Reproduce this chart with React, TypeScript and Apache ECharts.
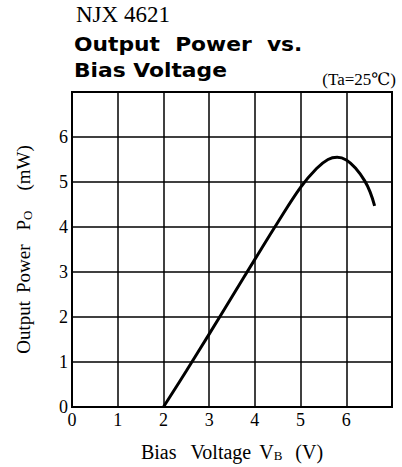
import React, { useEffect, useRef } from "react";
import * as echarts from "echarts";

const biasVoltage = [2.0, 2.5, 3.0, 3.5, 4.0, 4.5, 5.0, 5.35, 5.6, 5.8, 6.0, 6.2, 6.4, 6.52, 6.62];
const outputPower = [0.0, 0.8, 1.62, 2.45, 3.28, 4.1, 4.88, 5.3, 5.5, 5.55, 5.49, 5.31, 5.03, 4.78, 4.47];
const xTicks = [0, 1, 2, 3, 4, 5, 6, 7];
const yTicks = [0, 1, 2, 3, 4, 5, 6, 7];

const SERIF = "'Liberation Serif', 'DejaVu Serif', serif";
const BOLD = "'DejaVu Sans', 'Liberation Sans', sans-serif";

export default function App() {
  const ref = useRef<HTMLDivElement>(null);
  useEffect(() => {
    document.body.style.margin = "0";
    const chart = echarts.init(ref.current!, null, { renderer: "svg" });
    const data = biasVoltage.map((v, i) => [v, outputPower[i]]);
    const base = { fontFamily: SERIF, color: "#000" };
    chart.setOption({
      animation: false,
      backgroundColor: "#fff",
      grid: { left: 72, right: 10, top: 92, bottom: 57, show: true, borderColor: "#000", borderWidth: 2 },
      graphic: [
        { type: "text", left: 76, top: 3, style: { text: "NJX 4621", font: `23px ${SERIF}`, fill: "#000" } },
        { type: "text", left: 74, top: 34, scaleX: 1.09, style: { text: "Output  Power  vs.", font: `bold 20px ${BOLD}`, fill: "#000" } },
        { type: "text", left: 74, top: 60, scaleX: 1.09, style: { text: "Bias Voltage", font: `bold 20px ${BOLD}`, fill: "#000" } },
        { type: "text", right: 6, top: 71, style: { text: "(Ta=25℃)", font: `17px ${SERIF}`, fill: "#000" } },
      ],
      xAxis: {
        type: "value",
        min: xTicks[0],
        max: xTicks[xTicks.length - 1],
        interval: 1,
        name: "{a|Bias}{g1|Voltage}{g2|V}{s|B}{g3|(V)}",
        nameLocation: "middle",
        nameGap: 34,
        nameTextStyle: {
          ...base,
          fontSize: 20,
          rich: {
            a: { ...base, fontSize: 20 },
            g1: { ...base, fontSize: 20, padding: [0, 0, 0, 14] },
            g2: { ...base, fontSize: 20, padding: [0, 0, 0, 8] },
            s: { ...base, fontSize: 13, padding: [8, 0, 0, 0] },
            g3: { ...base, fontSize: 20, padding: [0, 0, 0, 13] },
          },
        },
        axisLine: { show: false },
        axisTick: { show: false },
        axisLabel: {
          ...base,
          fontSize: 18,
          margin: 4,
          formatter: (v: number) => (v === 7 ? "" : String(v)),
        },
        splitLine: { show: true, lineStyle: { color: "#000", width: 1.5 } },
      },
      yAxis: {
        type: "value",
        min: yTicks[0],
        max: yTicks[yTicks.length - 1],
        interval: 1,
        name: "{a|Output}{g1|Power}{g2|P}{s|O}{g3|(mW)}",
        nameLocation: "middle",
        nameGap: 38,
        nameTextStyle: {
          ...base,
          fontSize: 19,
          rich: {
            a: { ...base, fontSize: 19 },
            g1: { ...base, fontSize: 19, padding: [0, 0, 0, 8] },
            g2: { ...base, fontSize: 19, padding: [0, 0, 0, 14] },
            s: { ...base, fontSize: 13, padding: [8, 0, 0, 0] },
            g3: { ...base, fontSize: 19, padding: [0, 0, 0, 20] },
          },
        },
        axisLine: { show: false },
        axisTick: { show: false },
        axisLabel: {
          ...base,
          fontSize: 18,
          margin: 4,
          formatter: (v: number) => (v === 7 ? "" : String(v)),
        },
        splitLine: { show: true, lineStyle: { color: "#000", width: 1.5 } },
      },
      series: [
        {
          type: "line",
          data,
          smooth: 0.4,
          showSymbol: false,
          lineStyle: { color: "#000", width: 3 },
        },
      ],
    });
    return () => chart.dispose();
  }, []);
  return <div ref={ref} style={{ width: 402, height: 467 }} />;
}
